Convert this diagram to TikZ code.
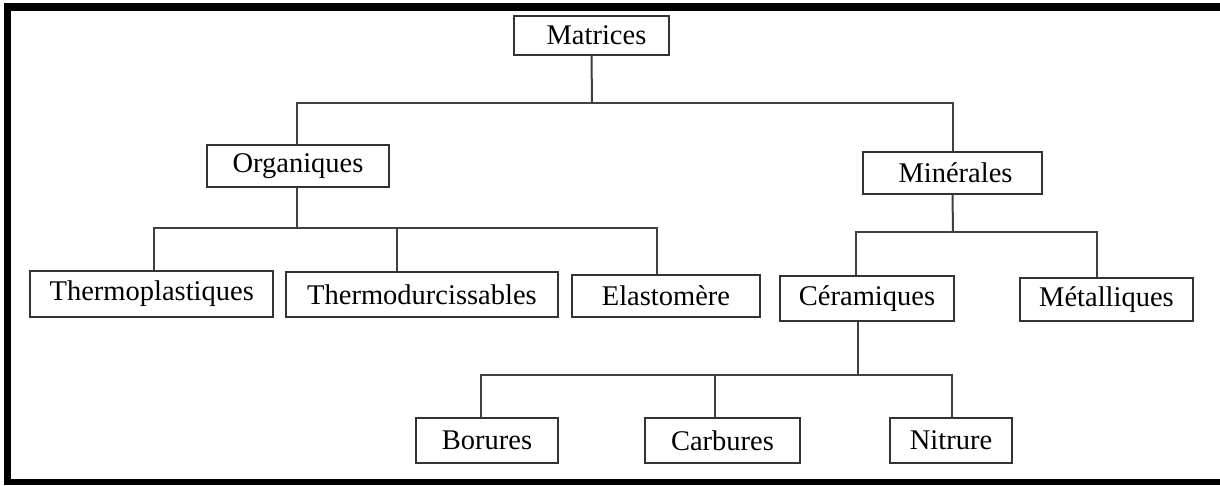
\documentclass[tikz,border=0pt]{standalone}
\usepackage{fontspec}
\setmainfont{Liberation Serif}
\begin{document}
\begin{tikzpicture}[x=1pt,y=-1pt,
  box/.style={draw=black!80, line width=2pt, fill=white, inner sep=0pt, font=\fontsize{28.5}{30}\selectfont, text=black},
  conn/.style={draw=black!75, line width=2pt},
  frame/.style={fill=black}]
\useasboundingbox (0,0) rectangle (1220,485);
\fill[white] (0,0) rectangle (1220,485);
% outer frame
\fill[frame] (4,3) rectangle (1220,11);
\fill[frame] (4,3) rectangle (11,485);
\fill[frame] (4,479) rectangle (1220,485);
% nodes
\node[box, minimum width=155, minimum height=39] (mat) at (591.5,35.5) {\hspace*{10pt}Matrices};
\node[box, minimum width=182, minimum height=42] (org) at (298,166) {Organiques};
\node[box, minimum width=179, minimum height=42] (min) at (952.5,173) {\hspace*{6pt}Minérales};
\node[box, minimum width=243, minimum height=46] (thp) at (151.75,294) {Thermoplastiques};
\node[box, minimum width=272, minimum height=45] (thd) at (422,294.5) {Thermodurcissables};
\node[box, minimum width=188, minimum height=42] (ela) at (666,296) {Elastomère};
\node[box, minimum width=174, minimum height=45] (cer) at (867,298.5) {Céramiques};
\node[box, minimum width=173, minimum height=43] (met) at (1106.5,299.5) {Métalliques};
\node[box, minimum width=142, minimum height=45] (bor) at (487,440.5) {Borures};
\node[box, minimum width=155, minimum height=45] (car) at (722.5,440.5) {Carbures};
\node[box, minimum width=122, minimum height=45] (nit) at (951,440.5) {Nitrure};
% junctions
\coordinate (j1) at (592,103);
\coordinate (j2) at (297,228);
\coordinate (j3) at (953,232);
\coordinate (j4) at (858,375);
% connectors
\draw[conn] (mat.south) -- (j1);
\draw[conn] ([xshift=-1pt]org.north) |- (j1) -| (min.north);
\draw[conn] ([xshift=-1pt]org.south) -- (j2);
\draw[conn] ([xshift=2.25pt]thp.north) |- (j2) -| ([xshift=-9.5pt]ela.north);
\draw[conn] ([xshift=-25pt]thd.north) -- ([xshift=-25pt]thd.north |- j2);
\draw[conn] (min.south) -- (j3);
\draw[conn] ([xshift=-11pt]cer.north) |- (j3) -| ([xshift=-9.5pt]met.north);
\draw[conn] ([xshift=-9pt]cer.south) -- (j4);
\draw[conn] ([xshift=-6pt]bor.north) |- (j4) -| ([xshift=1pt]nit.north);
\draw[conn] ([xshift=-7.5pt]car.north) -- ([xshift=-7.5pt]car.north |- j4);
\end{tikzpicture}
\end{document}
